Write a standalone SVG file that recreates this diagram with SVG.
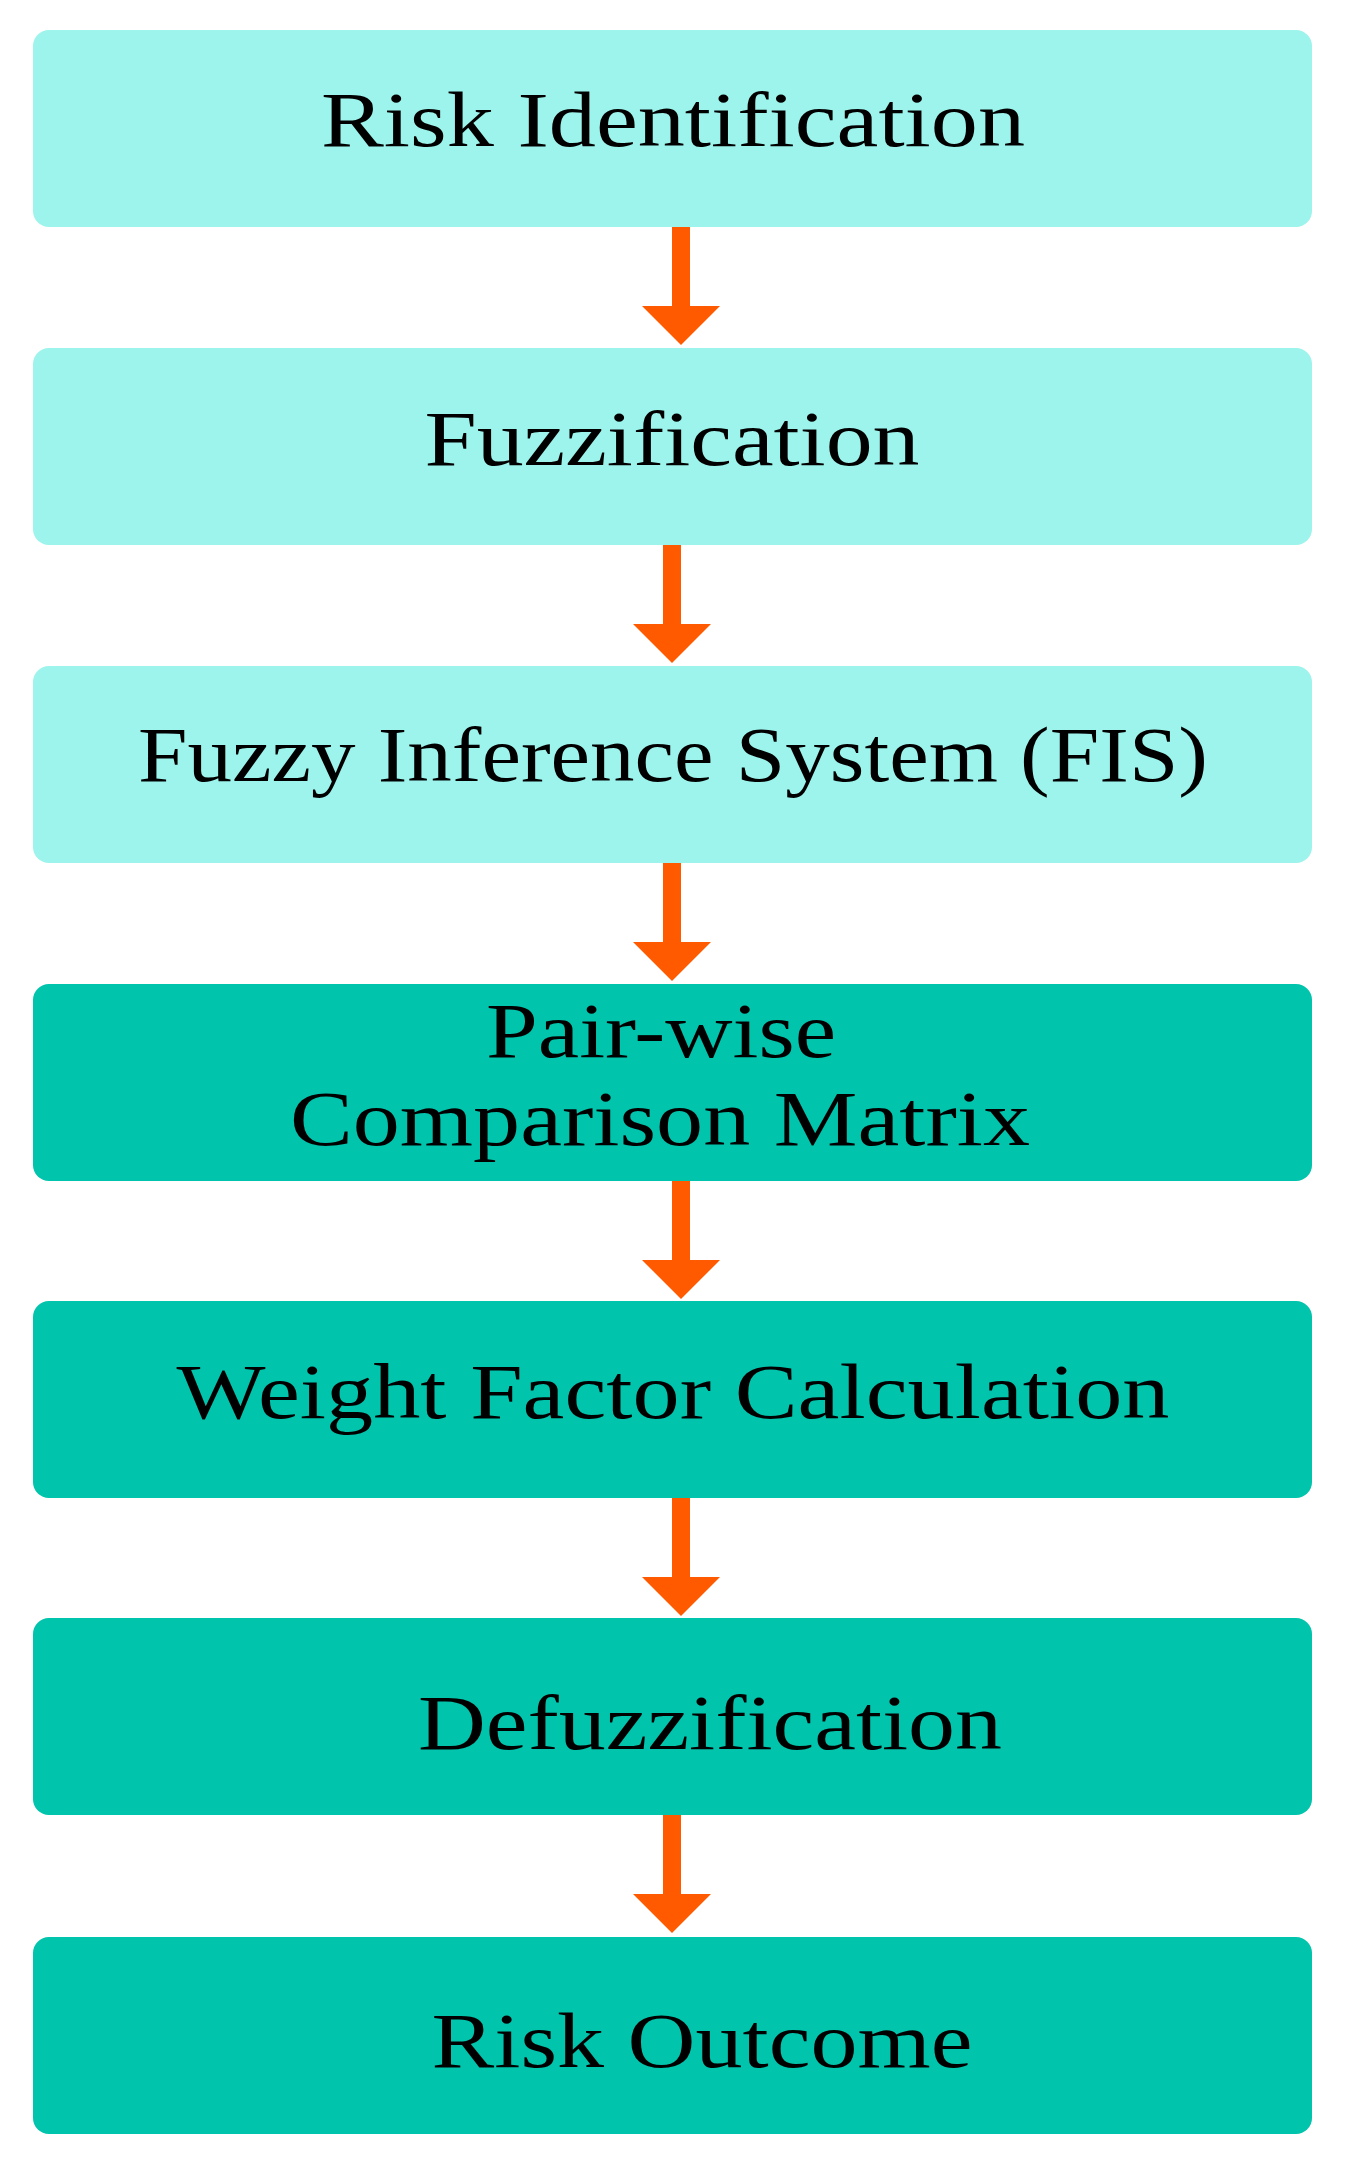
<svg xmlns="http://www.w3.org/2000/svg" width="1345" height="2164" viewBox="0 0 1345 2164">
<style>
.l{fill:#9CF4EC}.d{fill:#00C4AC}
text{font-family:"Liberation Serif","Times New Roman",serif;font-size:78px;fill:#000;text-anchor:middle}
.a{fill:#FF5A00}
</style>
<rect width="1345" height="2164" fill="#fff"/>
<g id="n1"><rect class="l" x="33" y="30" width="1279" height="197" rx="16"/><text x="673" y="146" textLength="704" lengthAdjust="spacingAndGlyphs">Risk Identification</text></g>
<g id="n2"><rect class="l" x="33" y="348" width="1279" height="197" rx="16"/><text x="672" y="465" textLength="495" lengthAdjust="spacingAndGlyphs">Fuzzification</text></g>
<g id="n3"><rect class="l" x="33" y="666" width="1279" height="197" rx="16"/><text x="673" y="781" textLength="1070" lengthAdjust="spacingAndGlyphs">Fuzzy Inference System (FIS)</text></g>
<g id="n4"><rect class="d" x="33" y="984" width="1279" height="197" rx="16"/><text x="661" y="1057" textLength="350" lengthAdjust="spacingAndGlyphs">Pair-wise</text><text x="660" y="1145" textLength="740" lengthAdjust="spacingAndGlyphs">Comparison Matrix</text></g>
<g id="n5"><rect class="d" x="33" y="1301" width="1279" height="197" rx="16"/><text x="673" y="1418" textLength="993" lengthAdjust="spacingAndGlyphs">Weight Factor Calculation</text></g>
<g id="n6"><rect class="d" x="33" y="1618" width="1279" height="197" rx="16"/><text x="710" y="1749" textLength="584" lengthAdjust="spacingAndGlyphs">Defuzzification</text></g>
<g id="n7"><rect class="d" x="33" y="1937" width="1279" height="197" rx="16"/><text x="702" y="2067" textLength="541" lengthAdjust="spacingAndGlyphs">Risk Outcome</text></g>
<g id="connectors" class="a">
<path d="M672,227 h18 v79 h30 l-39,39 l-39,-39 h30 z"/>
<path d="M663,545 h18 v79 h30 l-39,39 l-39,-39 h30 z"/>
<path d="M663,863 h18 v79 h30 l-39,39 l-39,-39 h30 z"/>
<path d="M672,1181 h18 v79 h30 l-39,39 l-39,-39 h30 z"/>
<path d="M672,1498 h18 v79 h30 l-39,39 l-39,-39 h30 z"/>
<path d="M663,1815 h18 v79 h30 l-39,39 l-39,-39 h30 z"/>
</g>
</svg>
